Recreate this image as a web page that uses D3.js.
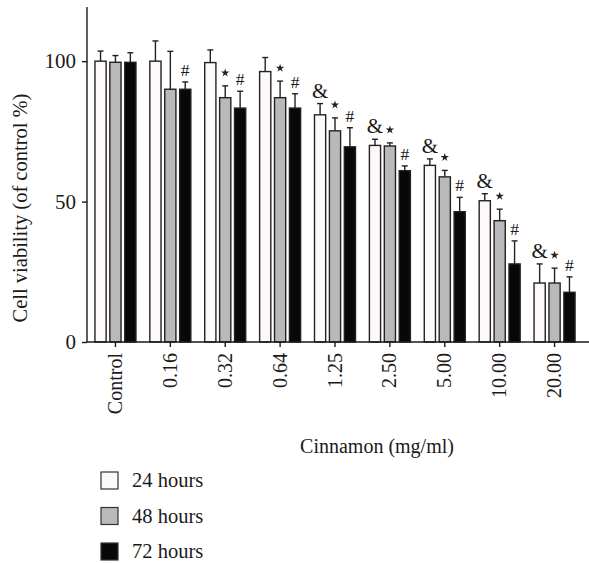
<!DOCTYPE html>
<html>
<head>
<meta charset="utf-8">
<script src="https://cdn.jsdelivr.net/npm/d3@7"></script>
<style>
  body { margin: 0; background: #fff; }
  svg text { font-family: "Liberation Serif", "Times New Roman", serif; fill: #1a1a1a; }
</style>
</head>
<body>
<svg width="589" height="563"></svg>
<script>
var doses = ['Control', '0.16', '0.32', '0.64', '1.25', '2.50', '5.00', '10.00', '20.00'];
var seriesNames = ['24 hours', '48 hours', '72 hours'];
var seriesColors = ['#fdf9fa', '#b9b9b9', '#080808'];

// mean viability, % of control
var h24 = [100, 100, 99.5, 96.3, 80.9, 70, 62.9, 50.3, 21];
var h48 = [99.6, 90, 87, 87, 75.2, 69.8, 58.8, 43.2, 21];
var h72 = [99.6, 90, 83.3, 83.3, 69.5, 61, 46.4, 27.8, 17.7];
// top of error bar
var e24 = [103.6, 107.2, 104, 101.3, 84.9, 72.2, 65.2, 52.8, 27.8];
var e48 = [102, 103.5, 91.2, 92.9, 79.8, 70.9, 61.1, 47.3, 26.3];
var e72 = [103, 92.6, 89.3, 88.4, 76.3, 62.7, 51.5, 36, 23.2];
// significance marks
var m24 = ['', '', '', '', '&', '&', '&', '&', '&'];
var m48 = ['', '', '*', '*', '*', '*', '*', '*', '*'];
var m72 = ['', '#', '#', '#', '#', '#', '#', '#', '#'];

var yTicks = [0, 50, 100];

var means = [h24, h48, h72], errs = [e24, e48, e72], marks = [m24, m48, m72];

var svg = d3.select('svg');

var y = d3.scaleLinear().domain([0, 120]).range([342, 5]);
var x = d3.scaleBand().domain(doses).range([88, 582]);
var xs = d3.scaleBand().domain(seriesNames).range([-20.5, 20.5]).paddingInner(0.25);

var rows = [];
doses.forEach(function (d, i) {
    seriesNames.forEach(function (s, j) {
        rows.push({ dose: d, series: s, j: j, v: means[j][i], e: errs[j][i], m: marks[j][i] });
    });
});

function bx(r) { return x(r.dose) + x.bandwidth() / 2 + xs(r.series); }
function cx(r) { return bx(r) + xs.bandwidth() / 2; }

// error bars (upward only)
var eg = svg.append('g').attr('stroke', '#222').attr('stroke-width', 1.4);
eg.selectAll('line.stem').data(rows).enter().append('line')
    .attr('x1', cx).attr('x2', cx)
    .attr('y1', function (r) { return y(r.v); })
    .attr('y2', function (r) { return y(r.e); });
eg.selectAll('line.cap').data(rows).enter().append('line')
    .attr('x1', function (r) { return cx(r) - 3; })
    .attr('x2', function (r) { return cx(r) + 3; })
    .attr('y1', function (r) { return y(r.e); })
    .attr('y2', function (r) { return y(r.e); });

// bars
svg.append('g').selectAll('rect').data(rows).enter().append('rect')
    .attr('x', bx)
    .attr('y', function (r) { return y(r.v); })
    .attr('width', xs.bandwidth())
    .attr('height', function (r) { return y(0) - y(r.v); })
    .attr('fill', function (r) { return seriesColors[r.j]; })
    .attr('stroke', '#222')
    .attr('stroke-width', 1.4);

// significance marks: & and # as text, * as a small star
svg.append('g').selectAll('text').data(rows.filter(function (r) { return r.m && r.m !== '*'; })).enter().append('text')
    .attr('x', cx)
    .attr('y', function (r) { return y(r.e) - 6; })
    .attr('text-anchor', 'middle')
    .attr('font-size', function (r) { return r.m === '&' ? 21 : 17.5; })
    .text(function (r) { return r.m; });
svg.append('g').selectAll('path').data(rows.filter(function (r) { return r.m === '*'; })).enter().append('path')
    .attr('d', d3.symbol(d3.symbolStar, 22))
    .attr('transform', function (r) { return 'translate(' + cx(r) + ',' + (y(r.e) - 13) + ')'; })
    .attr('fill', '#222');

// axes
var yAxis = svg.append('g').attr('transform', 'translate(87,0)')
    .call(d3.axisLeft(y).tickValues(yTicks).tickSize(5).tickPadding(6));
yAxis.select('.domain').attr('d', 'M0,' + y(0) + 'V7');
yAxis.selectAll('text').attr('font-size', 21).style('font-family', '"Liberation Serif", serif');

var xAxis = svg.append('g').attr('transform', 'translate(0,' + y(0) + ')')
    .call(d3.axisBottom(x).tickSize(5).tickSizeOuter(0));
xAxis.select('.domain').attr('d', 'M87,0H589');
xAxis.selectAll('text')
    .attr('font-size', 20)
    .style('font-family', '"Liberation Serif", serif')
    .attr('transform', 'rotate(-90)')
    .attr('text-anchor', 'end')
    .attr('x', -11)
    .attr('y', 0)
    .attr('dy', '0.33em');
svg.selectAll('.domain, .tick line').attr('stroke', '#1a1a1a').attr('stroke-width', 1.4);

// axis titles
svg.append('text')
    .attr('transform', 'translate(27,208) rotate(-90)')
    .attr('text-anchor', 'middle')
    .attr('font-size', 20.5)
    .text('Cell viability (of control %)');
svg.append('text')
    .attr('x', 377).attr('y', 453)
    .attr('text-anchor', 'middle')
    .attr('font-size', 20)
    .text('Cinnamon (mg/ml)');

// legend
var lg = svg.append('g').selectAll('g').data(seriesNames).enter().append('g')
    .attr('transform', function (d, i) { return 'translate(101,' + (472 + i * 35.5) + ')'; });
lg.append('rect').attr('width', 17).attr('height', 17)
    .attr('fill', function (d, i) { return seriesColors[i]; })
    .attr('stroke', '#333').attr('stroke-width', 1.2);
lg.append('text').attr('x', 31).attr('y', 15).attr('font-size', 20.5).text(function (d) { return d; });
</script>
</body>
</html>
